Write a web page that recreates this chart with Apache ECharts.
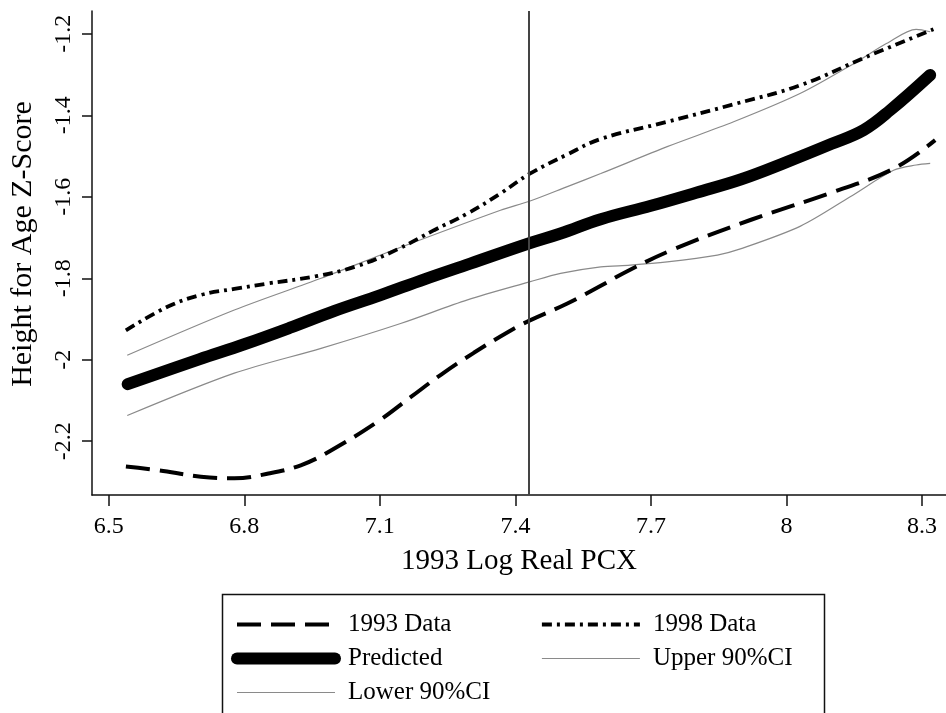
<!DOCTYPE html>
<html>
<head>
<meta charset="utf-8">
<script src="https://cdn.jsdelivr.net/npm/echarts@6/dist/echarts.min.js"></script>
<style>html,body{margin:0;padding:0;background:#fff;}#c{width:946px;height:713px;}</style>
</head>
<body>
<div id="c"></div>
<script>
const xTicks = [6.5, 6.8, 7.1, 7.4, 7.7, 8, 8.3];
const yTicks = [-2.2, -2, -1.8, -1.6, -1.4, -1.2];
const refLineX = 7.43;

const data1993X = [6.538, 6.608, 6.704, 6.778, 6.851, 6.925, 6.99, 7.095, 7.168, 7.235, 7.308, 7.382, 7.431, 7.515, 7.588, 7.654, 7.75, 7.92, 8.104, 8.237, 8.329];
const data1993Y = [-2.262, -2.271, -2.287, -2.291, -2.280, -2.259, -2.224, -2.152, -2.092, -2.037, -1.983, -1.933, -1.904, -1.862, -1.819, -1.779, -1.729, -1.657, -1.588, -1.531, -1.461];

const data1998X = [6.538, 6.630, 6.704, 6.778, 6.851, 6.959, 7.05, 7.139, 7.220, 7.294, 7.367, 7.431, 7.515, 7.589, 7.736, 7.883, 8.031, 8.178, 8.329];
const data1998Y = [-1.928, -1.870, -1.841, -1.826, -1.813, -1.795, -1.770, -1.729, -1.682, -1.641, -1.592, -1.544, -1.496, -1.458, -1.416, -1.373, -1.326, -1.256, -1.187];

const predX = [6.542, 6.7, 6.8, 6.9, 7.0, 7.1, 7.2, 7.3, 7.431, 7.5, 7.589, 7.7, 7.8, 7.9, 8.0, 8.1, 8.171, 8.23, 8.318];
const predY = [-2.060, -1.999, -1.962, -1.922, -1.880, -1.842, -1.802, -1.764, -1.714, -1.690, -1.655, -1.622, -1.590, -1.557, -1.515, -1.470, -1.436, -1.387, -1.301];

const upperX = [6.541, 6.778, 6.970, 7.139, 7.367, 7.431, 7.515, 7.589, 7.736, 7.883, 8.031, 8.155, 8.221, 8.287, 8.318];
const upperY = [-1.989, -1.878, -1.800, -1.727, -1.633, -1.611, -1.575, -1.543, -1.477, -1.416, -1.346, -1.269, -1.224, -1.189, -1.195];

const lowerX = [6.541, 6.778, 6.970, 7.146, 7.294, 7.431, 7.500, 7.589, 7.654, 7.736, 7.847, 7.898, 8.031, 8.141, 8.237, 8.287, 8.318];
const lowerY = [-2.137, -2.033, -1.972, -1.911, -1.853, -1.809, -1.788, -1.772, -1.768, -1.760, -1.743, -1.728, -1.672, -1.600, -1.535, -1.522, -1.518];

const pairs = (xs, ys) => xs.map((x, i) => [x, ys[i]]);
const FONT = '"Liberation Serif", "Times New Roman", serif';

const styles = {
  '1993 Data': {color: '#000', width: 4, type: [24, 10]},
  '1998 Data': {color: '#000', width: 3.8, type: [10, 5, 3, 5]},
  'Predicted': {color: '#000', width: 12, type: 'solid', cap: 'round', join: 'round'},
  'Upper 90%CI': {color: '#8a8a8a', width: 1.2, type: 'solid'},
  'Lower 90%CI': {color: '#8a8a8a', width: 1.2, type: 'solid'}
};
const legendItem = name => ({name: name, lineStyle: styles[name], itemStyle: {opacity: 0}});

const chart = echarts.init(document.getElementById('c'), null, {renderer: 'canvas'});

const legendBase = {
  orient: 'vertical',
  top: 607,
  itemWidth: 98,
  itemHeight: 14,
  itemGap: 9,
  selectedMode: false,
  itemStyle: {opacity: 0},
  textStyle: {fontFamily: FONT, fontSize: 25, color: '#000', lineHeight: 25, padding: [0, 0, 0, 8]}
};

chart.setOption({
  animation: false,
  backgroundColor: '#fff',
  grid: {left: 91, right: 0, top: 11, bottom: 218, containLabel: false},
  xAxis: {
    type: 'value', min: 6.463, max: 8.353,
    name: '1993 Log Real PCX', nameLocation: 'middle', nameGap: 52,
    nameTextStyle: {fontFamily: FONT, fontSize: 29, color: '#000'},
    axisLine: {show: true, lineStyle: {color: '#111', width: 1.5}},
    axisTick: {show: true, length: 11, lineStyle: {color: '#111', width: 1.5}, customValues: xTicks},
    axisLabel: {fontFamily: FONT, fontSize: 24, color: '#000', margin: 20, customValues: xTicks, formatter: v => String(v)},
    splitLine: {show: false}
  },
  yAxis: {
    type: 'value', min: -2.332, max: -1.144,
    name: 'Height for Age Z-Score', nameLocation: 'middle', nameGap: 54, nameRotate: 90,
    nameTextStyle: {fontFamily: FONT, fontSize: 30, color: '#000', padding: [0, 0, 0, 18]},
    axisLine: {show: true, lineStyle: {color: '#111', width: 1.5}},
    axisTick: {show: true, length: 10, lineStyle: {color: '#111', width: 1.5}, customValues: yTicks},
    axisLabel: {fontFamily: FONT, fontSize: 24, color: '#000', margin: 16, rotate: 90, customValues: yTicks, formatter: v => String(v)},
    splitLine: {show: false}
  },
  legend: [
    Object.assign({}, legendBase, {left: 226, data: ['1993 Data', 'Predicted', 'Lower 90%CI'].map(legendItem)}),
    Object.assign({}, legendBase, {left: 535, data: ['1998 Data', 'Upper 90%CI'].map(legendItem)})
  ],
  graphic: [{
    type: 'rect', left: 220, top: 592, silent: true,
    shape: {width: 602, height: 140},
    style: {fill: 'none', stroke: '#111', lineWidth: 1.5}
  }],
  series: [
    {
      name: 'Upper 90%CI', type: 'line', showSymbol: false, symbol: 'none', smooth: 0.3,
      data: pairs(upperX, upperY), lineStyle: styles['Upper 90%CI'], itemStyle: {color: '#8a8a8a'}
    },
    {
      name: 'Lower 90%CI', type: 'line', showSymbol: false, symbol: 'none', smooth: 0.3,
      data: pairs(lowerX, lowerY), lineStyle: styles['Lower 90%CI'], itemStyle: {color: '#8a8a8a'}
    },
    {
      name: '1993 Data', type: 'line', showSymbol: false, symbol: 'none', smooth: 0.4,
      data: pairs(data1993X, data1993Y), lineStyle: styles['1993 Data'], itemStyle: {color: '#000'}
    },
    {
      name: '1998 Data', type: 'line', showSymbol: false, symbol: 'none', smooth: 0.4,
      data: pairs(data1998X, data1998Y), lineStyle: styles['1998 Data'], itemStyle: {color: '#000'}
    },
    {
      name: 'Predicted', type: 'line', showSymbol: false, symbol: 'none', smooth: 0.4,
      data: pairs(predX, predY), lineStyle: styles['Predicted'], itemStyle: {color: '#000'},
      markLine: {
        silent: true, symbol: 'none', label: {show: false},
        lineStyle: {color: '#444', width: 2, type: 'solid'},
        data: [{xAxis: refLineX}]
      }
    }
  ]
});
</script>
</body>
</html>
